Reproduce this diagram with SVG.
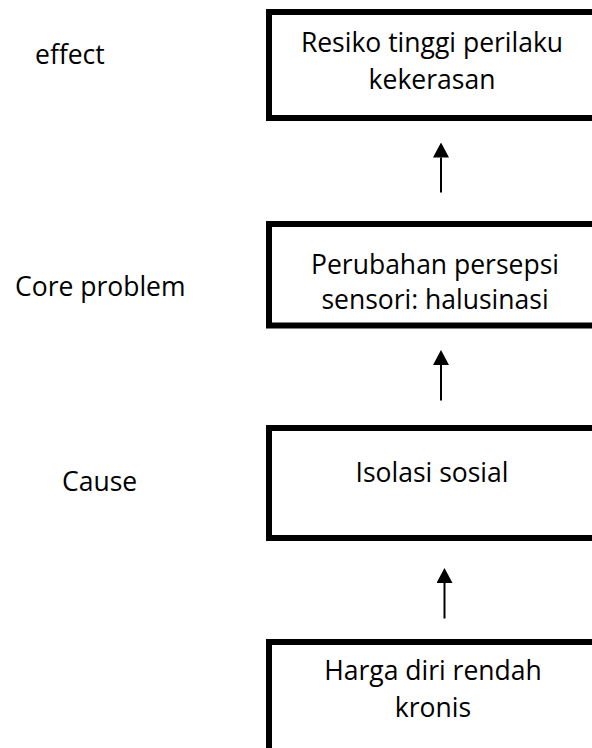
<svg xmlns="http://www.w3.org/2000/svg" width="592" height="748" viewBox="0 0 592 748">
<style>
.box{fill:#fff;stroke:#000;stroke-width:6}
.t{font-family:"Open Sans","Noto Sans",sans-serif;font-size:26.5px;fill:#000;text-anchor:middle}
.l{font-family:"Open Sans","Noto Sans",sans-serif;font-size:26.5px;fill:#000}
.c{stroke:#000;stroke-width:2;fill:none}
</style>
<defs>
<marker id="ah" viewBox="0 0 15 16" refX="0" refY="8" markerWidth="15" markerHeight="16" markerUnits="userSpaceOnUse" orient="auto">
<path d="M0,0 L15,8 L0,16 z" fill="#000"/>
</marker>
</defs>
<rect width="592" height="748" fill="#fff"/>
<g id="labels">
<text class="l" x="35" y="64">effect</text>
<text class="l" x="15" y="296">Core problem</text>
<text class="l" x="62" y="491">Cause</text>
</g>
<g id="n1">
<rect class="box" x="269" y="12" width="340" height="106"/>
<text class="t" x="432" y="52">Resiko tinggi perilaku</text>
<text class="t" x="432" y="89">kekerasan</text>
</g>
<g id="n2">
<rect class="box" x="269" y="224" width="340" height="101.5"/>
<text class="t" x="435" y="274">Perubahan persepsi</text>
<text class="t" x="435" y="309">sensori: halusinasi</text>
</g>
<g id="n3">
<rect class="box" x="269" y="428" width="340" height="110"/>
<text class="t" x="432" y="482">Isolasi sosial</text>
</g>
<g id="n4">
<rect class="box" x="269" y="642" width="340" height="120"/>
<text class="t" x="433" y="680">Harga diri rendah</text>
<text class="t" x="433" y="717">kronis</text>
</g>
<g id="connectors">
<line class="c" x1="441" y1="192.5" x2="441" y2="157.5" marker-end="url(#ah)"/>
<line class="c" x1="441" y1="400.5" x2="441" y2="365" marker-end="url(#ah)"/>
<line class="c" x1="444.5" y1="618.5" x2="444.5" y2="583" marker-end="url(#ah)"/>
</g>
</svg>
